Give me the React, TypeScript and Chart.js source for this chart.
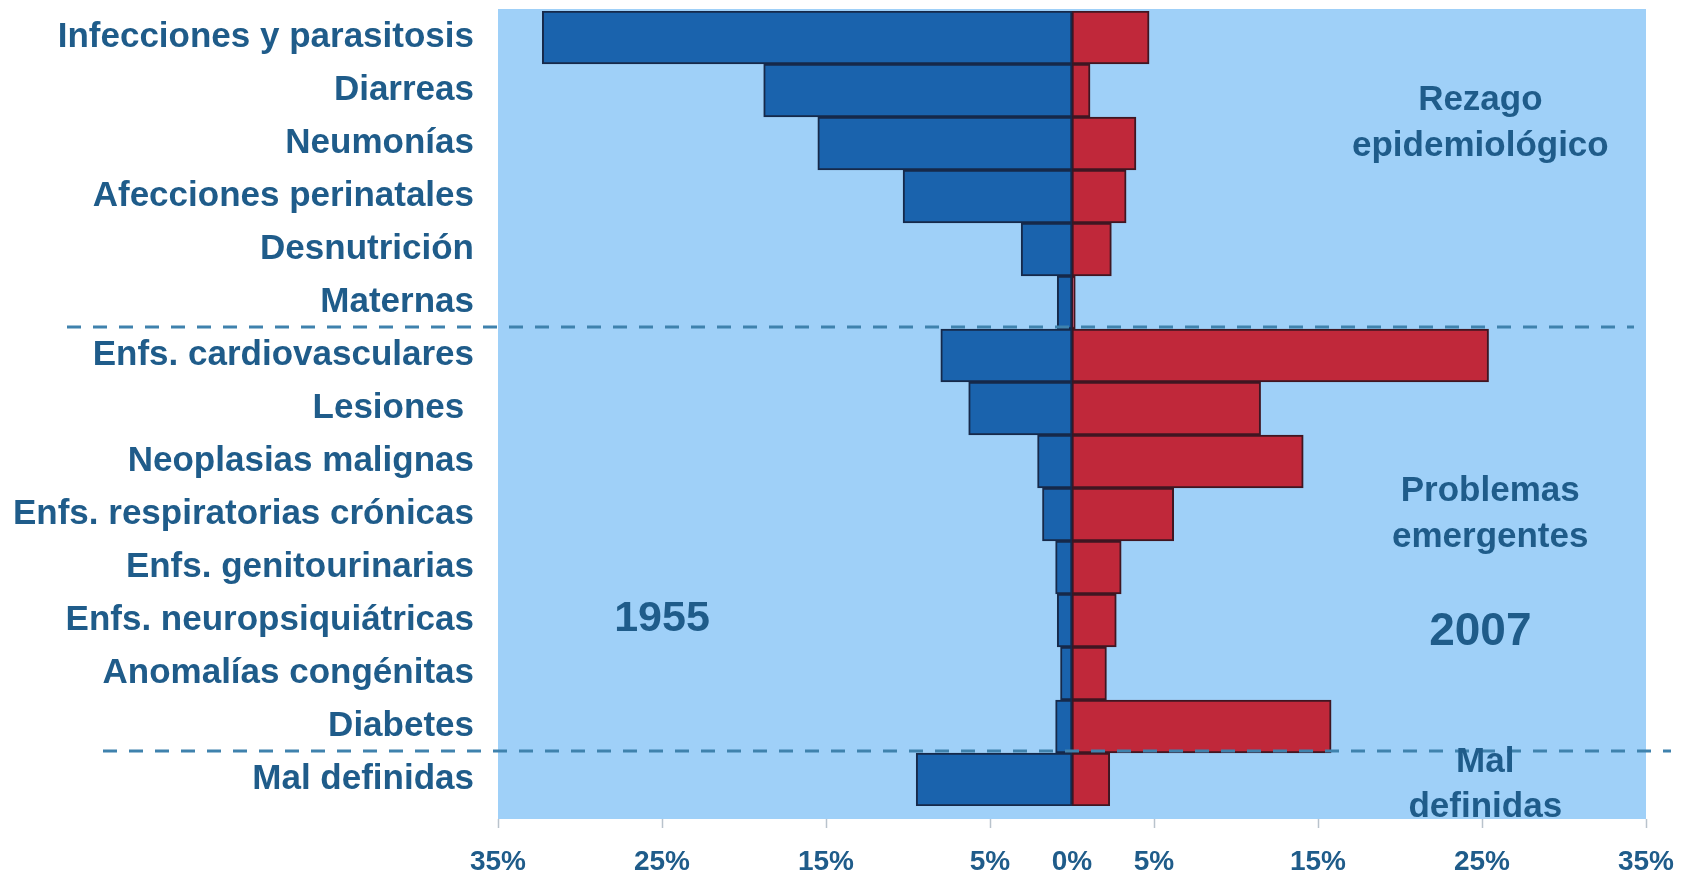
import React, { useEffect, useRef } from 'react';
import { Chart, registerables } from 'chart.js';

Chart.register(...registerables);

// ---------- data ----------
const categories = [
  'Infecciones y parasitosis',
  'Diarreas',
  'Neumonías',
  'Afecciones perinatales',
  'Desnutrición',
  'Maternas',
  'Enfs. cardiovasculares',
  'Lesiones ',
  'Neoplasias malignas',
  'Enfs. respiratorias crónicas',
  'Enfs. genitourinarias',
  'Enfs. neuropsiquiátricas',
  'Anomalías congénitas',
  'Diabetes',
  'Mal definidas',
];

// percentage of deaths, 1955 (drawn to the left)
const values1955 = [32.3, 18.8, 15.5, 10.3, 3.1, 0.9, 8.0, 6.3, 2.1, 1.8, 1.0, 0.9, 0.7, 1.0, 9.5];
// percentage of deaths, 2007 (drawn to the right)
const values2007 = [4.7, 1.1, 3.9, 3.3, 2.4, 0.2, 25.4, 11.5, 14.1, 6.2, 3.0, 2.7, 2.1, 15.8, 2.3];

const xTickValues = [-35, -25, -15, -5, 0, 5, 15, 25, 35];

// group separators (between category indexes)
const separators = [5.5, 13.5];

// in-chart texts, positioned in data coordinates (x = %, y = category index)
const noteTexts = [['Rezago', 'epidemiológico'], ['Problemas', 'emergentes'], ['1955'], ['2007'], ['Mal', 'definidas']];
const noteX = [24.9, 25.5, -25, 24.9, 25.2];
const noteY = [1.62, 9.0, 10.98, 11.22, 14.1];
const noteSize = [35, 35, 43, 46, 35];

// ---------- styles ----------
const BG = '#9fd0f8';
const BLUE = '#1a63ad';
const BLUE_EDGE = '#16294a';
const RED = '#c0283a';
const RED_EDGE = '#3f1622';
const TEXT = '#1f5c8a';
const DASH = '#3f82ad';
const FONT = '"Liberation Sans", Arial, sans-serif';

const backgroundPlugin = {
  id: 'bgPanel',
  beforeDraw(chart: any) {
    const { ctx, chartArea } = chart;
    ctx.save();
    ctx.fillStyle = '#ffffff';
    ctx.fillRect(0, 0, chart.width, chart.height);
    ctx.fillStyle = BG;
    ctx.fillRect(chartArea.left, chartArea.top - 2, chartArea.right - chartArea.left, chartArea.bottom - chartArea.top + 15);
    ctx.restore();
  },
};

const overlayPlugin = {
  id: 'overlay',
  afterDatasetsDraw(chart: any) {
    const { ctx, chartArea, scales } = chart;
    const xs = scales.x;
    const ys = scales.y;
    ctx.save();
    // dashed separators
    ctx.strokeStyle = DASH;
    ctx.lineWidth = 3;
    ctx.setLineDash([14, 12]);
    const spans = [
      [67, chartArea.right - 12],
      [103, chartArea.right + 25],
    ];
    separators.forEach((s, i) => {
      const y = Math.round(ys.getPixelForValue(s)) - 2;
      ctx.beginPath();
      ctx.moveTo(spans[i][0], y);
      ctx.lineTo(spans[i][1], y);
      ctx.stroke();
    });
    ctx.setLineDash([]);
    // notes
    ctx.fillStyle = TEXT;
    ctx.textAlign = 'center';
    ctx.textBaseline = 'middle';
    noteTexts.forEach((lines, i) => {
      const size = noteSize[i];
      ctx.font = `bold ${size}px ${FONT}`;
      const cx = xs.getPixelForValue(noteX[i]);
      const cy = ys.getPixelForValue(noteY[i]);
      const lh = size * 1.3;
      const top = cy - ((lines.length - 1) * lh) / 2;
      lines.forEach((t, j) => ctx.fillText(t, cx, top + j * lh));
    });
    ctx.restore();
  },
  afterDraw(chart: any) {
    const { ctx, chartArea, scales } = chart;
    const xs = scales.x;
    const y0 = chartArea.bottom + 13;
    ctx.save();
    ctx.strokeStyle = '#b9c3cc';
    ctx.lineWidth = 1.5;
    xTickValues.forEach((v) => {
      if (v === 0) return;
      const x = Math.round(xs.getPixelForValue(v)) + 0.5;
      ctx.beginPath();
      ctx.moveTo(x, y0);
      ctx.lineTo(x, y0 + 9);
      ctx.stroke();
    });
    ctx.restore();
  },
};

export default function App() {
  const ref = useRef<HTMLCanvasElement>(null);

  useEffect(() => {
    const canvas = ref.current;
    if (!canvas) return;
    const chart = new Chart(canvas, {
      type: 'bar',
      data: {
        labels: categories,
        datasets: [
          {
            label: '1955',
            data: values1955.map((v) => -v),
            backgroundColor: BLUE,
            borderColor: BLUE_EDGE,
            borderWidth: 2,
            borderSkipped: false,
            barPercentage: 1,
            categoryPercentage: 1,
          },
          {
            label: '2007',
            data: values2007,
            backgroundColor: RED,
            borderColor: RED_EDGE,
            borderWidth: 2,
            borderSkipped: false,
            barPercentage: 1,
            categoryPercentage: 1,
          },
        ],
      },
      options: {
        indexAxis: 'y',
        responsive: false,
        animation: false,
        layout: { padding: { top: 11, right: 61, left: 0, bottom: 0 } },
        plugins: {
          legend: { display: false },
          tooltip: { enabled: false },
        },
        scales: {
          x: {
            type: 'linear',
            min: -35,
            max: 35,
            stacked: true,
            grid: { display: false, drawTicks: false },
            border: { display: false },
            afterBuildTicks: (s: any) => {
              s.ticks = xTickValues.map((v) => ({ value: v }));
            },
            afterFit: (s: any) => {
              s.height = 74;
              s.paddingLeft = 0;
              s.paddingRight = 0;
            },
            ticks: {
              autoSkip: false,
              maxRotation: 0,
              padding: 39,
              color: TEXT,
              font: { family: FONT, size: 28, weight: 'bold' },
              callback: (v: any) => Math.abs(Number(v)) + '%',
            },
          },
          y: {
            type: 'category',
            stacked: true,
            offset: true,
            grid: { display: false, drawTicks: false },
            border: { display: false },
            afterFit: (s: any) => {
              s.width = 498;
              s.paddingTop = 0;
              s.paddingBottom = 0;
            },
            ticks: {
              autoSkip: false,
              padding: 24,
              color: TEXT,
              font: { family: FONT, size: 35, weight: 'bold' },
            },
          },
        },
      },
      plugins: [backgroundPlugin, overlayPlugin],
    } as any);
    return () => chart.destroy();
  }, []);

  return (
    <div style={{ position: 'fixed', left: 0, top: 0, width: 1707, height: 880, background: '#fff' }}>
      <canvas ref={ref} width={1707} height={880} style={{ display: 'block' }} />
    </div>
  );
}
